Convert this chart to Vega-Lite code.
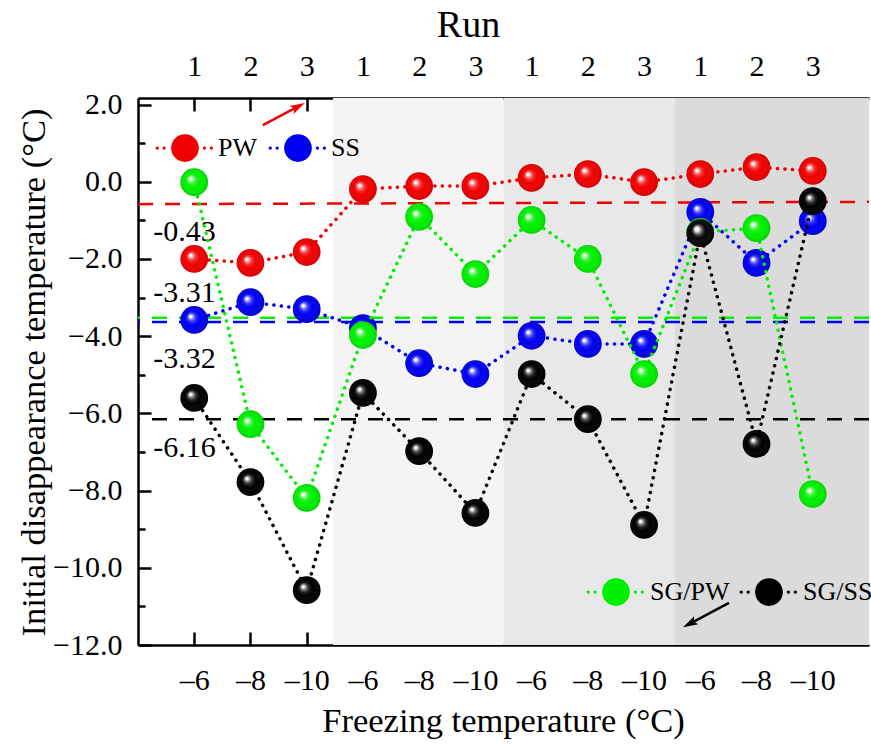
{
  "$schema": "https://vega.github.io/schema/vega-lite/v6.json",
  "width": 731,
  "height": 547,
  "autosize": {"type": "none"},
  "padding": {"left": 138, "top": 98, "right": 2, "bottom": 100},
  "background": "white",
  "config": {
    "view": {"stroke": null},
    "font": "Liberation Serif",
    "axis": {
      "grid": false,
      "domainColor": "black",
      "domainWidth": 2.5,
      "tickColor": "black",
      "tickWidth": 2.5,
      "labelFont": "Liberation Serif",
      "titleFont": "Liberation Serif",
      "labelColor": "black",
      "titleColor": "black",
      "titleFontWeight": "normal",
      "labelFontSize": 30,
      "titleFontSize": 34.5,
      "zindex": 1
    },
    "legend": {
      "labelFont": "Liberation Serif",
      "labelColor": "black",
      "labelFontSize": 26
    }
  },
  "datasets": {
    "main": [
      {"idx": 1, "series": "PW", "value": -2.0},
      {"idx": 2, "series": "PW", "value": -2.1},
      {"idx": 3, "series": "PW", "value": -1.82},
      {"idx": 4, "series": "PW", "value": -0.19},
      {"idx": 5, "series": "PW", "value": -0.11},
      {"idx": 6, "series": "PW", "value": -0.11},
      {"idx": 7, "series": "PW", "value": 0.1},
      {"idx": 8, "series": "PW", "value": 0.2},
      {"idx": 9, "series": "PW", "value": -0.01},
      {"idx": 10, "series": "PW", "value": 0.2},
      {"idx": 11, "series": "PW", "value": 0.38},
      {"idx": 12, "series": "PW", "value": 0.28},
      {"idx": 1, "series": "SS", "value": -3.58},
      {"idx": 2, "series": "SS", "value": -3.12},
      {"idx": 3, "series": "SS", "value": -3.3},
      {"idx": 4, "series": "SS", "value": -3.79},
      {"idx": 5, "series": "SS", "value": -4.7},
      {"idx": 6, "series": "SS", "value": -4.98},
      {"idx": 7, "series": "SS", "value": -3.99},
      {"idx": 8, "series": "SS", "value": -4.2},
      {"idx": 9, "series": "SS", "value": -4.2},
      {"idx": 10, "series": "SS", "value": -0.78},
      {"idx": 11, "series": "SS", "value": -2.1},
      {"idx": 12, "series": "SS", "value": -1.02},
      {"idx": 1, "series": "SG/PW", "value": -0.01},
      {"idx": 2, "series": "SG/PW", "value": -6.28},
      {"idx": 3, "series": "SG/PW", "value": -8.19},
      {"idx": 4, "series": "SG/PW", "value": -3.97},
      {"idx": 5, "series": "SG/PW", "value": -0.91},
      {"idx": 6, "series": "SG/PW", "value": -2.39},
      {"idx": 7, "series": "SG/PW", "value": -0.99},
      {"idx": 8, "series": "SG/PW", "value": -2.0},
      {"idx": 9, "series": "SG/PW", "value": -4.98},
      {"idx": 10, "series": "SG/PW", "value": -1.3},
      {"idx": 11, "series": "SG/PW", "value": -1.2},
      {"idx": 12, "series": "SG/PW", "value": -8.09},
      {"idx": 1, "series": "SG/SS", "value": -5.6},
      {"idx": 2, "series": "SG/SS", "value": -7.78},
      {"idx": 3, "series": "SG/SS", "value": -10.58},
      {"idx": 4, "series": "SG/SS", "value": -5.47},
      {"idx": 5, "series": "SG/SS", "value": -6.98},
      {"idx": 6, "series": "SG/SS", "value": -8.58},
      {"idx": 7, "series": "SG/SS", "value": -4.98},
      {"idx": 8, "series": "SG/SS", "value": -6.15},
      {"idx": 9, "series": "SG/SS", "value": -8.89},
      {"idx": 10, "series": "SG/SS", "value": -1.33},
      {"idx": 11, "series": "SG/SS", "value": -6.79},
      {"idx": 12, "series": "SG/SS", "value": -0.5}
    ],
    "bands": [
      {"from": 3.47, "to": 6.5, "shade": "b"},
      {"from": 6.5, "to": 9.55, "shade": "c"},
      {"from": 9.55, "to": 13, "shade": "d"}
    ],
    "one": [{"k": 1}]
  },
  "resolve": {"scale": {"color": "independent"}, "axis": {"x": "independent", "y": "independent"}},
  "layer": [
    {
      "data": {"name": "bands"},
      "mark": {"type": "rect"},
      "encoding": {
        "x": {
          "field": "from", "type": "quantitative",
          "scale": {"domain": [0, 13], "nice": false, "zero": false},
          "axis": {
            "orient": "bottom",
            "values": [1, 2, 3, 4, 5, 6, 7, 8, 9, 10, 11, 12],
            "labelExpr": "['–6','–8','–10'][(datum.value-1)%3]",
            "tickSize": -13,
            "labelPadding": 33,
            "title": "Freezing temperature (°C)",
            "titleX": 365,
            "titleY": 76,
            "titleBaseline": "middle",
            "titleAlign": "center"
          }
        },
        "x2": {"field": "to"},
        "fill": {
          "field": "shade", "type": "nominal",
          "scale": {"domain": ["b", "c", "d"], "range": ["#f4f4f4", "#e8e8e8", "#dbdbdb"]},
          "legend": null
        }
      }
    },
    {
      "data": {"name": "main"},
      "transform": [{"filter": "datum.series === 'PW' && datum.idx === 1"}],
      "mark": {"type": "point", "opacity": 0},
      "encoding": {
        "x": {
          "field": "idx", "type": "quantitative",
          "axis": {
            "orient": "top",
            "values": [1, 2, 3, 4, 5, 6, 7, 8, 9, 10, 11, 12],
            "labelExpr": "((datum.value-1)%3)+1",
            "tickSize": -13,
            "labelPadding": 30,
            "title": "Run",
            "titleFontSize": 38,
            "titleX": 330,
            "titleY": -73,
            "titleBaseline": "middle",
            "titleAlign": "center"
          }
        },
        "y": {
          "field": "value", "type": "quantitative",
          "scale": {"domain": [-12, 2.17], "nice": false, "zero": false},
          "axis": null
        }
      }
    },
    {
      "data": {"name": "main"},
      "transform": [{"filter": "datum.series === 'PW' && datum.idx === 1"}],
      "mark": {"type": "point", "opacity": 0},
      "encoding": {
        "x": {"field": "idx", "type": "quantitative", "axis": null},
        "y": {
          "field": "value", "type": "quantitative",
          "axis": {
            "orient": "left",
            "values": [-12, -10, -8, -6, -4, -2, 0, 2],
            "format": ".1f",
            "tickSize": -13,
            "labelPadding": 29,
            "title": "Initial disappearance temperature (°C)",
            "titleX": -104,
            "titleY": 274,
            "titleAngle": -90,
            "titleBaseline": "middle",
            "titleAlign": "center"
          }
        }
      }
    },
    {
      "data": {"name": "main"},
      "transform": [{"filter": "datum.series === 'PW' && datum.idx === 1"}],
      "mark": {"type": "point", "opacity": 0},
      "encoding": {
        "x": {"field": "idx", "type": "quantitative", "axis": null},
        "y": {
          "field": "value", "type": "quantitative",
          "axis": {
            "orient": "left",
            "values": [-11, -9, -7, -5, -3, -1, 1],
            "tickSize": -7,
            "labels": false,
            "domain": false,
            "title": null
          }
        }
      }
    },
    {
      "data": {"name": "one"},
      "mark": {"type": "rule", "color": "#f00000", "strokeWidth": 2.5, "strokeDash": [15, 12]},
      "encoding": {
        "x": {"datum": 0, "type": "quantitative", "axis": null},
        "x2": {"datum": 13},
        "y": {"datum": -0.58, "type": "quantitative", "axis": null},
        "y2": {"datum": -0.52}
      }
    },
    {
      "data": {"name": "one"},
      "mark": {"type": "rule", "color": "#00f000", "strokeWidth": 2.5, "strokeDash": [15, 12]},
      "encoding": {"y": {"datum": -3.52, "type": "quantitative", "axis": null}}
    },
    {
      "data": {"name": "one"},
      "mark": {"type": "rule", "color": "#0000f0", "strokeWidth": 2.5, "strokeDash": [15, 12]},
      "encoding": {"y": {"datum": -3.63, "type": "quantitative", "axis": null}}
    },
    {
      "data": {"name": "one"},
      "mark": {"type": "rule", "color": "black", "strokeWidth": 2.5, "strokeDash": [15, 12]},
      "encoding": {"y": {"datum": -6.15, "type": "quantitative", "axis": null}}
    },
    {
      "data": {"name": "one"},
      "mark": {"type": "text", "align": "left", "baseline": "middle", "fontSize": 30, "font": "Liberation Serif", "color": "black"},
      "encoding": {"x": {"datum": 0.27, "type": "quantitative", "axis": null}, "y": {"datum": -1.3, "type": "quantitative", "axis": null}, "text": {"value": "-0.43"}}
    },
    {
      "data": {"name": "one"},
      "mark": {"type": "text", "align": "left", "baseline": "middle", "fontSize": 30, "font": "Liberation Serif", "color": "black"},
      "encoding": {"x": {"datum": 0.27, "type": "quantitative", "axis": null}, "y": {"datum": -2.88, "type": "quantitative", "axis": null}, "text": {"value": "-3.31"}}
    },
    {
      "data": {"name": "one"},
      "mark": {"type": "text", "align": "left", "baseline": "middle", "fontSize": 30, "font": "Liberation Serif", "color": "black"},
      "encoding": {"x": {"datum": 0.27, "type": "quantitative", "axis": null}, "y": {"datum": -4.59, "type": "quantitative", "axis": null}, "text": {"value": "-3.32"}}
    },
    {
      "data": {"name": "one"},
      "mark": {"type": "text", "align": "left", "baseline": "middle", "fontSize": 30, "font": "Liberation Serif", "color": "black"},
      "encoding": {"x": {"datum": 0.27, "type": "quantitative", "axis": null}, "y": {"datum": -6.9, "type": "quantitative", "axis": null}, "text": {"value": "-6.16"}}
    },
    {
      "data": {"name": "main"},
      "transform": [{"filter": "datum.series === 'PW' || datum.series === 'SS'"}],
      "mark": {"type": "line", "strokeDash": [0.1, 7.4], "strokeCap": "round", "strokeWidth": 3.5},
      "encoding": {
        "x": {"field": "idx", "type": "quantitative", "axis": null},
        "y": {"field": "value", "type": "quantitative", "axis": null},
        "stroke": {
          "field": "series", "type": "nominal",
          "scale": {"domain": ["PW", "SS", "SG/PW", "SG/SS"], "range": ["#f00000", "#0000f0", "#00f000", "#000000"]},
          "legend": null
        }
      }
    },
    {
      "data": {"name": "main"},
      "transform": [{"filter": "datum.series === 'PW' || datum.series === 'SS'"}],
      "mark": {"type": "point", "filled": true, "size": 770, "opacity": 1},
      "encoding": {
        "x": {"field": "idx", "type": "quantitative", "axis": null},
        "y": {"field": "value", "type": "quantitative", "axis": null},
        "color": {
          "field": "series", "type": "nominal",
          "scale": {"domain": ["PW", "SS"], "range": ["#f00000", "#0000f0"]},
          "legend": {
            "orient": "none",
            "legendX": 33,
            "legendY": 36,
            "direction": "horizontal",
            "title": null,
            "padding": 0,
            "symbolType": "M-1,0A1,1,0,1,1,1,0A1,1,0,1,1,-1,0Z M-2.12,0A0.12,0.12,0,1,1,-1.88,0A0.12,0.12,0,1,1,-2.12,0Z M-1.62,0A0.12,0.12,0,1,1,-1.38,0A0.12,0.12,0,1,1,-1.62,0Z M1.28,0A0.12,0.12,0,1,1,1.52,0A0.12,0.12,0,1,1,1.28,0Z M1.78,0A0.12,0.12,0,1,1,2.02,0A0.12,0.12,0,1,1,1.78,0Z",
            "symbolSize": 770,
            "symbolStrokeWidth": 0,
            "symbolOpacity": 1,
            "labelFontSize": 26,
            "labelOffset": 19,
            "columnPadding": 11
          }
        }
      }
    },
    {
      "data": {"name": "main"},
      "transform": [{"filter": "datum.series === 'PW' || datum.series === 'SS'"}],
      "mark": {
        "type": "point", "filled": true, "size": 770, "opacity": 1,
        "fill": {
          "gradient": "radial", "x1": 0.36, "y1": 0.36, "r1": 0, "x2": 0.5, "y2": 0.5, "r2": 0.5,
          "stops": [
            {"offset": 0, "color": "rgba(255,255,255,1)"},
            {"offset": 0.1, "color": "rgba(255,255,255,0.95)"},
            {"offset": 0.18, "color": "rgba(255,255,255,0.55)"},
            {"offset": 0.35, "color": "rgba(255,255,255,0.15)"},
            {"offset": 0.55, "color": "rgba(255,255,255,0)"},
            {"offset": 1, "color": "rgba(0,0,0,0.12)"}
          ]
        }
      },
      "encoding": {
        "x": {"field": "idx", "type": "quantitative", "axis": null},
        "y": {"field": "value", "type": "quantitative", "axis": null}
      }
    },
    {
      "data": {"name": "main"},
      "transform": [{"filter": "datum.series === 'SG/PW' || datum.series === 'SG/SS'"}],
      "mark": {"type": "line", "strokeDash": [0.1, 7.4], "strokeCap": "round", "strokeWidth": 3.5},
      "encoding": {
        "x": {"field": "idx", "type": "quantitative", "axis": null},
        "y": {"field": "value", "type": "quantitative", "axis": null},
        "stroke": {
          "field": "series", "type": "nominal",
          "scale": {"domain": ["PW", "SS", "SG/PW", "SG/SS"], "range": ["#f00000", "#0000f0", "#00f000", "#000000"]},
          "legend": null
        }
      }
    },
    {
      "data": {"name": "main"},
      "transform": [{"filter": "datum.series === 'SG/PW' || datum.series === 'SG/SS'"}],
      "mark": {"type": "point", "filled": true, "size": 770, "opacity": 1},
      "encoding": {
        "x": {"field": "idx", "type": "quantitative", "axis": null},
        "y": {"field": "value", "type": "quantitative", "axis": null},
        "color": {
          "field": "series", "type": "nominal",
          "scale": {"domain": ["SG/PW", "SG/SS"], "range": ["#00f000", "#000000"]},
          "legend": {
            "orient": "none",
            "legendX": 464,
            "legendY": 480,
            "direction": "horizontal",
            "title": null,
            "padding": 0,
            "symbolType": "M-1,0A1,1,0,1,1,1,0A1,1,0,1,1,-1,0Z M-2.12,0A0.12,0.12,0,1,1,-1.88,0A0.12,0.12,0,1,1,-2.12,0Z M-1.62,0A0.12,0.12,0,1,1,-1.38,0A0.12,0.12,0,1,1,-1.62,0Z M1.28,0A0.12,0.12,0,1,1,1.52,0A0.12,0.12,0,1,1,1.28,0Z M1.78,0A0.12,0.12,0,1,1,2.02,0A0.12,0.12,0,1,1,1.78,0Z",
            "symbolSize": 770,
            "symbolStrokeWidth": 0,
            "symbolOpacity": 1,
            "labelFontSize": 26,
            "labelOffset": 20,
            "columnPadding": 9
          }
        }
      }
    },
    {
      "data": {"name": "main"},
      "transform": [{"filter": "datum.series === 'SG/PW' || datum.series === 'SG/SS'"}],
      "mark": {
        "type": "point", "filled": true, "size": 770, "opacity": 1,
        "fill": {
          "gradient": "radial", "x1": 0.36, "y1": 0.36, "r1": 0, "x2": 0.5, "y2": 0.5, "r2": 0.5,
          "stops": [
            {"offset": 0, "color": "rgba(255,255,255,1)"},
            {"offset": 0.1, "color": "rgba(255,255,255,0.95)"},
            {"offset": 0.18, "color": "rgba(255,255,255,0.55)"},
            {"offset": 0.35, "color": "rgba(255,255,255,0.15)"},
            {"offset": 0.55, "color": "rgba(255,255,255,0)"},
            {"offset": 1, "color": "rgba(0,0,0,0.12)"}
          ]
        }
      },
      "encoding": {
        "x": {"field": "idx", "type": "quantitative", "axis": null},
        "y": {"field": "value", "type": "quantitative", "axis": null}
      }
    },
    {
      "data": {"name": "one"},
      "mark": {"type": "rule", "color": "#f00000", "strokeWidth": 2.5},
      "encoding": {"x": {"datum": 2.22, "type": "quantitative", "axis": null}, "y": {"datum": 1.47, "type": "quantitative", "axis": null}, "x2": {"datum": 2.81}, "y2": {"datum": 1.92}}
    },
    {
      "data": {"name": "one"},
      "mark": {"type": "point", "shape": "M0,-1L0.45,0.5L0,0.2L-0.45,0.5Z", "filled": true, "color": "#f00000", "size": 400, "angle": 62.4, "opacity": 1},
      "encoding": {"x": {"datum": 2.81, "type": "quantitative", "axis": null}, "y": {"datum": 1.92, "type": "quantitative", "axis": null}}
    },
    {
      "data": {"name": "one"},
      "mark": {"type": "rule", "color": "black", "strokeWidth": 2.5},
      "encoding": {"x": {"datum": 10.51, "type": "quantitative", "axis": null}, "y": {"datum": -10.91, "type": "quantitative", "axis": null}, "x2": {"datum": 9.85}, "y2": {"datum": -11.42}}
    },
    {
      "data": {"name": "one"},
      "mark": {"type": "point", "shape": "M0,-1L0.45,0.5L0,0.2L-0.45,0.5Z", "filled": true, "color": "black", "size": 400, "angle": 242.4, "opacity": 1},
      "encoding": {"x": {"datum": 9.85, "type": "quantitative", "axis": null}, "y": {"datum": -11.42, "type": "quantitative", "axis": null}}
    }
  ]
}
